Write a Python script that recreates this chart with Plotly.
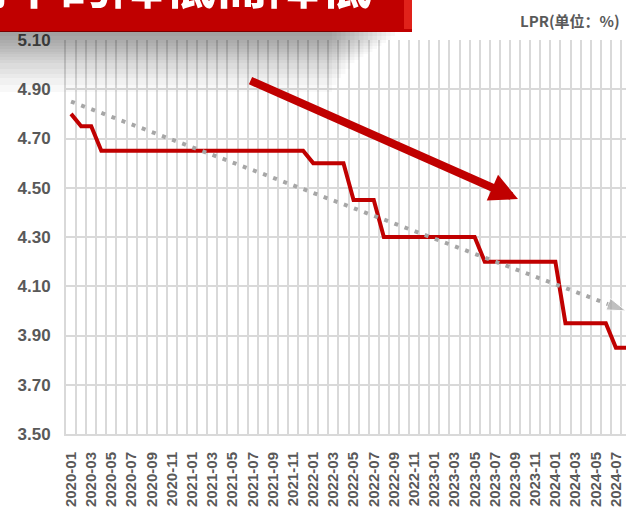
import plotly.graph_objects as go

# ---------------- data ----------------
months = [f"{y}-{m:02d}" for y in range(2020, 2025) for m in range(1, 13)]
months = months[: months.index("2024-08") + 1]

lpr = [4.80, 4.75, 4.75,
       4.65, 4.65, 4.65, 4.65, 4.65, 4.65, 4.65, 4.65, 4.65,
       4.65, 4.65, 4.65, 4.65, 4.65, 4.65, 4.65, 4.65, 4.65, 4.65, 4.65, 4.65,
       4.60, 4.60, 4.60, 4.60,
       4.45, 4.45, 4.45,
       4.30, 4.30, 4.30, 4.30, 4.30, 4.30, 4.30, 4.30, 4.30, 4.30,
       4.20, 4.20, 4.20, 4.20, 4.20, 4.20, 4.20, 4.20,
       3.95, 3.95, 3.95, 3.95, 3.95,
       3.85, 3.85]

trend_months = ["2020-01", "2024-08"]
trend_vals = [4.85, 4.00]

y_ticks = [3.50, 3.70, 3.90, 4.10, 4.30, 4.50, 4.70, 4.90, 5.10]
tick_months = months[::2][:28]

title_text = "房贷利率随LPR利率的降低而降低"
unit_text = "LPR(单位：%)"

# ---------------- geometry (page pixels) ----------------
W, H = 626, 512
B = 78                      # bottom margin for the month labels
PH_ALL = H - B              # plotting region height (margin top/left/right = 0)
PLOT_L, PLOT_T = 66, 40     # main plot area left / top edge
BANNER_R, BANNER_B = 412, 32


def px(x):
    return x / W


def py(y):
    return (PH_ALL - y) / PH_ALL


xi = list(range(len(months)))
trend_x = [months.index(m) for m in trend_months]

fig = go.Figure()

fig.add_trace(go.Scatter(
    x=xi, y=lpr, mode="lines",
    line=dict(color="#C00000", width=4),
    hoverinfo="skip", showlegend=False))

fig.add_trace(go.Scatter(
    x=trend_x, y=trend_vals, mode="lines+markers",
    line=dict(color="#A6A6A6", width=4, dash="4px,6.8px"),
    marker=dict(symbol=["circle", "arrow"], size=[0.1, 20], color="#A6A6A6",
                angleref="previous"),
    cliponaxis=False,
    hoverinfo="skip", showlegend=False))

# banner title: text clipped to the banner subplot so only its lower part shows
fig.add_trace(go.Scatter(
    x=[372], y=[41], mode="text", text=[f"<b>{title_text}</b>"],
    textposition="middle left",
    textfont=dict(family="Noto Sans CJK SC", size=52, color="white"),
    cliponaxis=True, xaxis="x2", yaxis="y2",
    hoverinfo="skip", showlegend=False))

shapes = []
# banner (below traces so the title text sits on top)
shapes.append(dict(type="rect", xref="paper", yref="paper", layer="below",
                   x0=px(-5), x1=px(BANNER_R), y0=py(BANNER_B), y1=py(-10),
                   fillcolor="#C00000", line=dict(width=0)))
shapes.append(dict(type="rect", xref="paper", yref="paper", layer="below",
                   x0=px(404), x1=px(BANNER_R), y0=py(29), y1=py(-10),
                   fillcolor="#E0221A", line=dict(width=0)))
# soft shadow under banner
shadow_depths = [4, 8, 11, 14, 17, 20, 22, 25, 28, 31, 37, 42, 46, 53, 60]
for i, hgt in enumerate(shadow_depths):
    shapes.append(dict(
        type="rect", xref="paper", yref="paper", layer="above",
        x0=px(-5), x1=px(395 - i * 4.5),
        y0=py(31), y1=py(32 + hgt),
        fillcolor="black", opacity=0.028, line=dict(width=0)))

annotations = [
    dict(xref="paper", yref="paper", x=px(622), y=py(20),
         xanchor="right", yanchor="middle", showarrow=False,
         text=f"<b>{unit_text}</b>",
         font=dict(family="Noto Sans CJK SC", size=15, color="#595959")),
    dict(xref="paper", yref="paper", x=px(518), y=py(199),
         ax=249 - 518, ay=80 - 199, axref="pixel", ayref="pixel",
         showarrow=True, arrowhead=2, arrowsize=0.7, arrowwidth=8,
         arrowcolor="#C00000", standoff=0, text=""),
]

fig.update_layout(
    width=W, height=H,
    margin=dict(l=0, r=0, t=0, b=B, autoexpand=False),
    paper_bgcolor="white", plot_bgcolor="rgba(0,0,0,0)",
    shapes=shapes, annotations=annotations,
    xaxis=dict(
        domain=[PLOT_L / W, 1], anchor="y",
        range=[-0.5, 55.0], tickmode="array",
        tickvals=list(range(0, 56, 2))[:28], ticktext=tick_months,
        tickangle=-90, showgrid=False, zeroline=False,
        ticks="", ticklabelstandoff=10, automargin=False,
        tickfont=dict(family="Liberation Sans", size=15, color="#595959", weight="bold"),
        showline=True, linecolor="#D9D9D9", linewidth=2,
        minor=dict(tickmode="array", tickvals=[i - 0.5 for i in range(57)],
                   showgrid=True, gridcolor="#D9D9D9", gridwidth=2, ticks=""),
    ),
    yaxis=dict(
        domain=[0, (PH_ALL - PLOT_T) / PH_ALL], anchor="x",
        range=[3.5, 5.1], tickmode="array", tickvals=y_ticks,
        tickformat=".2f", showgrid=True, gridcolor="#D9D9D9", gridwidth=2,
        zeroline=False, ticks="", ticklabelstandoff=10, automargin=False,
        tickfont=dict(family="Liberation Sans", size=17, color="#595959", weight="bold"),
        showline=True, linecolor="#D9D9D9", linewidth=2,
    ),
    xaxis2=dict(domain=[0, BANNER_R / W], anchor="y2", range=[0, BANNER_R],
                visible=False, fixedrange=True),
    yaxis2=dict(domain=[(PH_ALL - BANNER_B) / PH_ALL, 1], anchor="x2",
                range=[0, BANNER_B], visible=False, fixedrange=True),
)

fig.write_html(
    "out.html",
    config={"displayModeBar": False},
    post_script="document.body.style.margin='0';document.body.style.overflow='hidden';",
)
